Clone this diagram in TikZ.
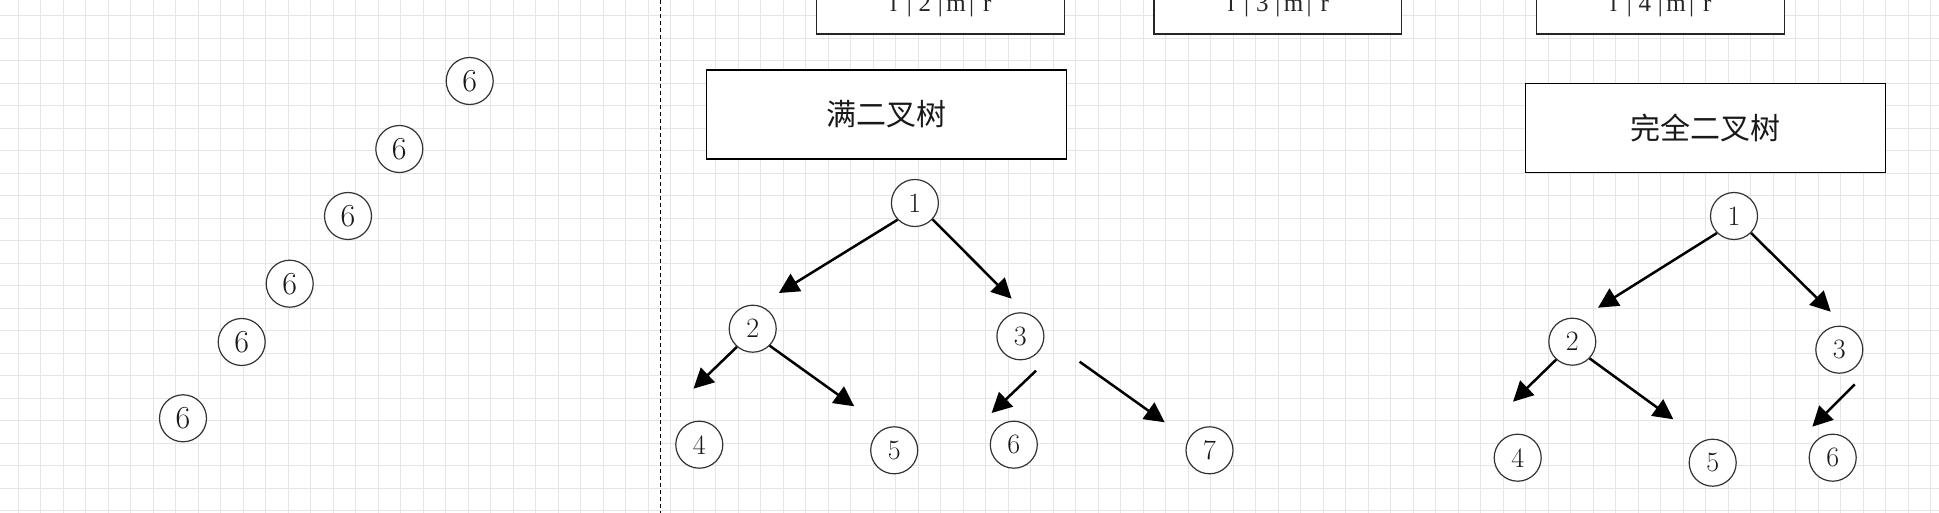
\documentclass[tikz,border=0pt]{standalone}
\usepackage{fontspec}
\newfontfamily\cjk{Noto Sans CJK SC}
\newfontfamily\tserif{Liberation Serif}
\usetikzlibrary{arrows.meta}
\newcommand{\cellch}[1]{\makebox[15.6pt][c]{#1}}
\begin{document}
\begin{tikzpicture}[x=1pt,y=-1pt,
  gridline/.style={draw=gray!20, line width=1pt},
  sepline/.style={draw=black, line width=1.3pt, dash pattern=on 4pt off 3pt},
  nodeA/.style={circle, draw=black!80, fill=white, line width=1.2pt, minimum size=47pt, inner sep=0pt, font=\fontsize{28}{30}\selectfont, text=black!90},
  nodeC/.style={nodeA, font=\fontsize{32}{34}\selectfont},
  edge/.style={draw=black, line width=2.5pt, -{Triangle[length=20pt,width=20pt]}},
  titlebox/.style={draw=black, fill=white, line width=1.3pt, minimum width=360pt, minimum height=89pt, inner sep=0pt, font=\cjk\fontsize{30}{32}\selectfont, text=black!90},
  topbox/.style={draw=black!85, fill=white, line width=1.3pt, minimum width=247.6pt, minimum height=90pt, inner sep=0pt},
  toplabel/.style={anchor=base, inner sep=0pt, font=\tserif\fontsize{25}{27}\selectfont, text=black!85}
]
\clip (0,0) rectangle (1939,513);
\fill[white] (0,0) rectangle (1939,513);
% grid
\foreach \i in {0,...,86} \draw[gridline] ({18.3+22.5*\i},0) -- ({18.3+22.5*\i},513);
\foreach \j in {0,...,22} \draw[gridline] (0,{15.8+22.5*\j}) -- (1939,{15.8+22.5*\j});
% separator
\coordinate (sepTop) at (660.7,0);
\coordinate (sepBot) at (660.7,513);
\draw[sepline] (sepTop) -- (sepBot);

% top boxes
\node[topbox] (tb1) at (940.5,-11) {};
\node[toplabel] (tl1) at (940.5,11.7) {\cellch{l}\cellch{|}\cellch{2}\cellch{|}\cellch{m}\cellch{|}\cellch{r}};
\node[topbox] (tb2) at (1277.9,-11) {};
\node[toplabel] (tl2) at (1277.9,11.7) {\cellch{l}\cellch{|}\cellch{3}\cellch{|}\cellch{m}\cellch{|}\cellch{r}};
\node[topbox] (tb3) at (1660.5,-11) {};
\node[toplabel] (tl3) at (1660.5,11.7) {\cellch{l}\cellch{|}\cellch{4}\cellch{|}\cellch{m}\cellch{|}\cellch{r}};

% title boxes
\node[titlebox] (full) at (886.5,114.5) {满二叉树};
\node[titlebox] (complete) at (1705.7,128) {完全二叉树};

% left chain
\node[nodeC] (c1) at (469.7,81) {6};
\node[nodeC] (c2) at (399.3,149) {6};
\node[nodeC] (c3) at (348,216) {6};
\node[nodeC] (c4) at (289.7,283.7) {6};
\node[nodeC] (c5) at (241.7,342) {6};
\node[nodeC] (c6) at (183,418.3) {6};

% tree 1 (full)
\node[nodeA] (a1) at (914.9,203) {1};
\node[nodeA] (a2) at (752.7,328.7) {2};
\node[nodeA] (a3) at (1020.4,336.3) {3};
\node[nodeA] (a4) at (699.3,444.7) {4};
\node[nodeA] (a5) at (894.2,450.3) {5};
\node[nodeA] (a6) at (1013.8,444.7) {6};
\node[nodeA] (a7) at (1209.5,450.3) {7};
\coordinate (a12) at (778.9,293);
\coordinate (a13) at (1011.6,298.7);
\coordinate (a24) at (693.5,388.7);
\coordinate (a25) at (854.2,406.3);
\coordinate (f1s) at (1036,370.7);
\coordinate (f1e) at (991.6,413);
\coordinate (f2s) at (1079.6,361.7);
\coordinate (f2e) at (1164.7,422.3);
\draw[edge] (a1.224) -- (a12);
\draw[edge] (a1.317) -- (a13);
\draw[edge] (a2.229) -- (a24);
\draw[edge] (a2.315) -- (a25);
\draw[edge] (f1s) -- (f1e);
\draw[edge] (f2s) -- (f2e);

% tree 2 (complete)
\node[nodeA] (b1) at (1734,216) {1};
\node[nodeA] (b2) at (1572.3,341.7) {2};
\node[nodeA] (b3) at (1839.3,349.7) {3};
\node[nodeA] (b4) at (1517.7,457.7) {4};
\node[nodeA] (b5) at (1712.7,462.7) {5};
\node[nodeA] (b6) at (1832.7,457.7) {6};
\coordinate (b12) at (1598,307.7);
\coordinate (b13) at (1830.7,311.7);
\coordinate (b24) at (1513,401.7);
\coordinate (b25) at (1673.3,419.3);
\coordinate (g1s) at (1854.7,384.3);
\coordinate (g1e) at (1812.3,426.7);
\draw[edge] (b1.225) -- (b12);
\draw[edge] (b1.315) -- (b13);
\draw[edge] (b2.228) -- (b24);
\draw[edge] (b2.316) -- (b25);
\draw[edge] (g1s) -- (g1e);
\end{tikzpicture}
\end{document}
